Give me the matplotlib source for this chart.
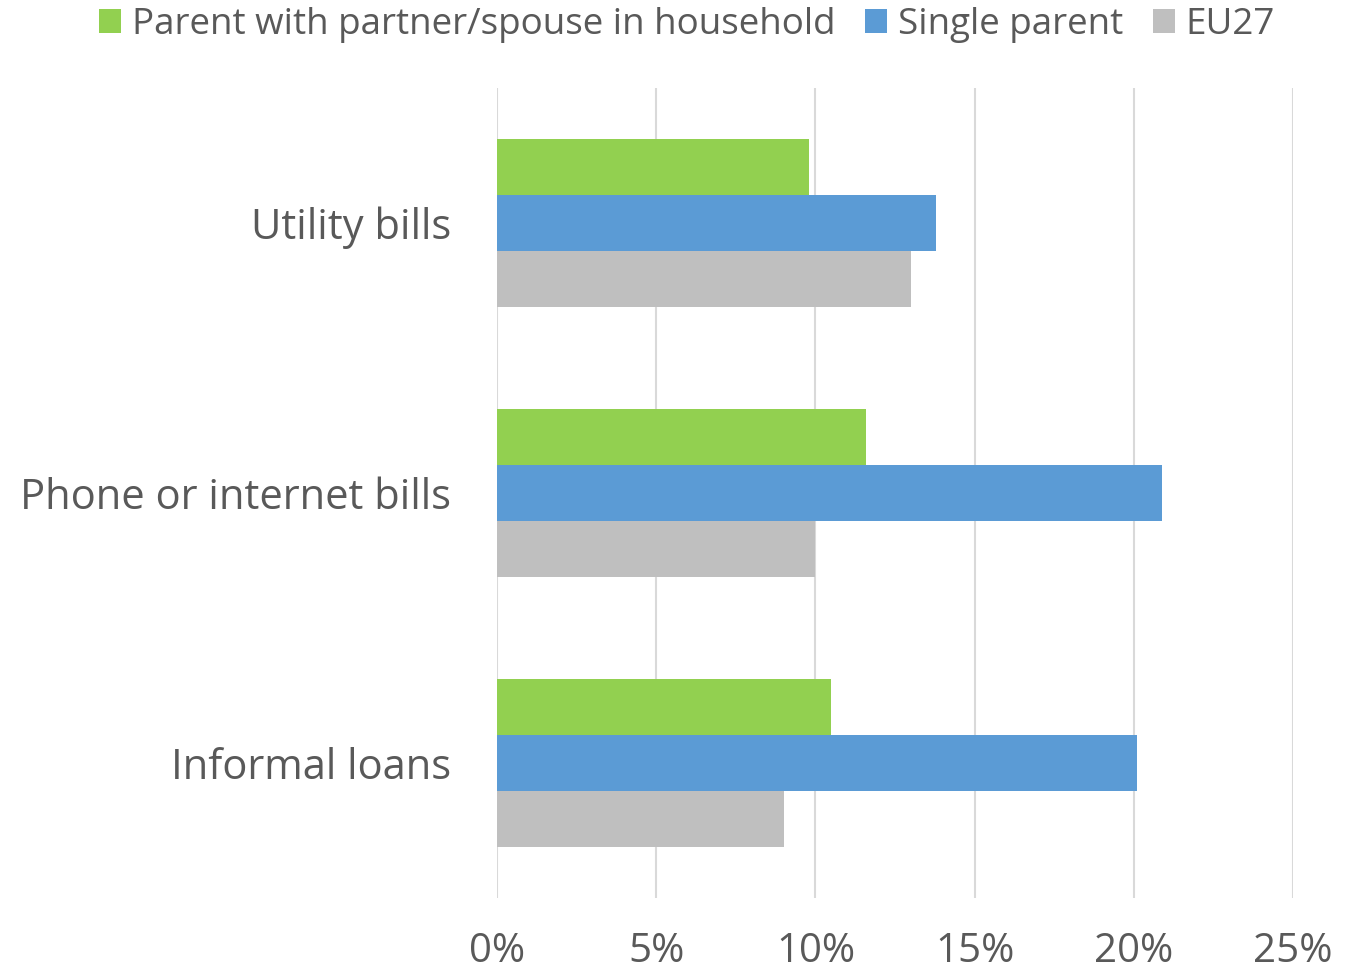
import matplotlib.pyplot as plt
import numpy as np
from matplotlib.ticker import PercentFormatter

plt.rcParams['font.family'] = ['Open Sans', 'DejaVu Sans']

categories = ['Utility bills', 'Phone or internet bills', 'Informal loans']
series = ['Parent with partner/spouse in household', 'Single parent', 'EU27']
partner = [9.8, 11.6, 10.5]
single = [13.8, 20.9, 20.1]
eu27 = [13.0, 10.0, 9.0]
colors = ['#92D050', '#5B9BD5', '#BFBFBF']

fig = plt.figure(figsize=(13.52, 9.71), dpi=100)
ax = fig.add_axes([0.3676, 0.0752, 0.5888, 0.8342])

y = np.arange(len(categories))
h = 0.207
for i, (vals, name) in enumerate(zip([partner, single, eu27], series)):
    ax.barh(y + (i - 1) * h, vals, height=h, color=colors[i], label=name, zorder=2)

ax.set_xlim(0, 25)
ax.set_ylim(2.5, -0.5)
ax.set_xticks(np.arange(0, 26, 5))
ax.xaxis.set_major_formatter(PercentFormatter(decimals=0))
ax.set_yticks(y)
ax.set_yticklabels(categories)
ax.grid(axis='x', color='#D9D9D9', linewidth=1.5, zorder=0)
for s in ax.spines.values():
    s.set_visible(False)
ax.tick_params(axis='y', length=0, labelsize=30, labelcolor='#595959', pad=33)
ax.tick_params(axis='x', length=0, labelsize=29, labelcolor='#595959', pad=24)

fig.legend(loc='upper center', bbox_to_anchor=(0.508, 1.027), ncol=3, frameon=False,
           fontsize=26.5, labelcolor='#595959', handlelength=0.6, handleheight=0.6,
           handletextpad=0.3, columnspacing=0.8)

fig.savefig('out.png', dpi=100)
